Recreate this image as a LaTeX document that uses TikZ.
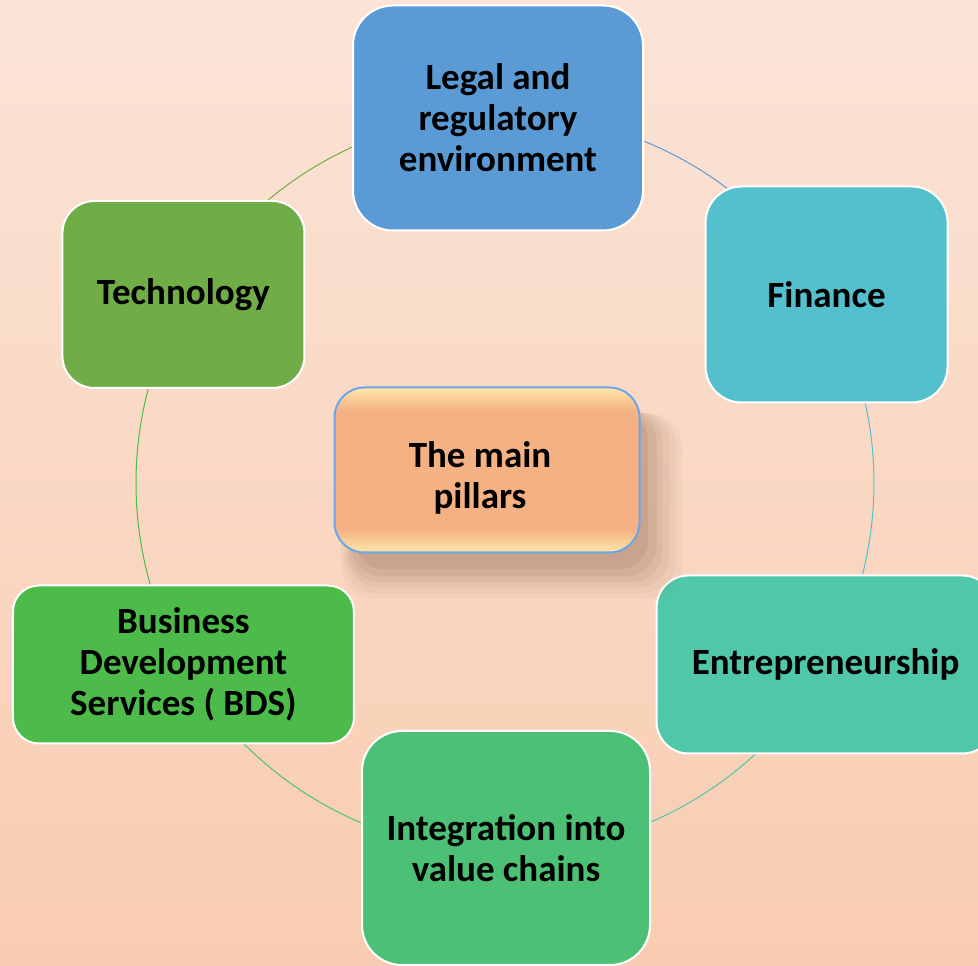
\documentclass[tikz,border=0pt]{standalone}
\usepackage{fontspec}
\setmainfont{Carlito}
\usepackage{tikz}
\usetikzlibrary{positioning, calc, shadows}

\definecolor{bgtop}{RGB}{251,228,215}
\definecolor{bgmid}{RGB}{247,199,168}
\definecolor{bgbottom}{RGB}{248,204,176}
\definecolor{legalblue}{RGB}{91,155,213}
\definecolor{financecyan}{RGB}{85,192,205}
\definecolor{entreteal}{RGB}{80,199,168}
\definecolor{valuegreen}{RGB}{76,193,118}
\definecolor{bdsgreen}{RGB}{76,187,74}
\definecolor{techgreen}{RGB}{112,173,71}
\definecolor{pillarfill}{RGB}{244,177,131}
\definecolor{pillarlight}{RGB}{255,232,170}
\definecolor{pillarline}{RGB}{108,165,235}
\definecolor{shadowbrown}{RGB}{140,100,75}

\pgfdeclareverticalshading{bevel}{100bp}{color(0bp)=(pillarlight); color(25bp)=(pillarlight);
  color(32bp)=(pillarfill); color(68bp)=(pillarfill); color(75bp)=(pillarlight); color(100bp)=(pillarlight)}

\begin{document}
\begin{tikzpicture}
    [x=1pt, y=1pt,
      pillar/.style={draw=white, line width=2pt, align=center, inner sep=0pt,
        font=\fontsize{37}{41}\selectfont\bfseries},
      ring/.style={line width=1pt}]

    \useasboundingbox (0,0) rectangle (978,966);
    \clip (0,0) rectangle (978,966);
    \shade[top color=bgtop, middle color=bgmid, bottom color=bgbottom] (0,0) rectangle (978,966);

    \coordinate (hub) at (505,483);

    % ring between the pillars
    \draw[ring, legalblue] ($(hub)+(30:369)$) arc[start angle=30, end angle=90, radius=369];
    \draw[ring, techgreen] ($(hub)+(90:369)$) arc[start angle=90, end angle=150, radius=369];
    \draw[ring, bdsgreen] ($(hub)+(150:369)$) arc[start angle=150, end angle=210, radius=369];
    \draw[ring, valuegreen] ($(hub)+(210:369)$) arc[start angle=210, end angle=270, radius=369];
    \draw[ring, entreteal] ($(hub)+(270:369)$) arc[start angle=270, end angle=330, radius=369];
    \draw[ring, financecyan] ($(hub)+(330:369)$) arc[start angle=330, end angle=390, radius=369];

    \node[pillar, fill=legalblue, rounded corners=40pt, minimum width=290pt, minimum height=225pt]
    (legal) at ($(hub)+(90:369)+(-7,-4)$) {Legal and \\ regulatory \\ environment};
    \node[pillar, fill=financecyan, rounded corners=36pt, minimum width=242pt, minimum height=216pt]
    (finance) at ($(hub)+(30:369)+(2,4)$) {Finance};
    \node[pillar, fill=entreteal, rounded corners=32pt, minimum width=338pt, minimum height=178pt]
    (entre) at ($(hub)+(-30:369)+(1,3)$) {Entrepreneurship};
    \node[pillar, fill=valuegreen, rounded corners=40pt, minimum width=288pt, minimum height=234pt]
    (value) at ($(hub)+(-90:369)+(1,4)$) {Integration into \\ value chains};
    \node[pillar, fill=bdsgreen, rounded corners=26pt, minimum width=341pt, minimum height=158pt]
    (bds) at ($(hub)+(210:369)+(-2,3)$) {Business \\ Development \\ Services ( BDS)};
    \node[pillar, fill=techgreen, rounded corners=32pt, minimum width=242pt, minimum height=187pt]
    (tech) at ($(hub)+(150:369)+(-2,4)$) {Technology};

    \node[pillar, draw=pillarline, shading=bevel, rounded corners=30pt,
      minimum width=305pt, minimum height=165pt,
      general shadow={shadow xshift=22pt, shadow yshift=-32pt, shadow scale=1.12, fill=shadowbrown, opacity=0.05},
      general shadow={shadow xshift=21pt, shadow yshift=-30pt, shadow scale=1.09, fill=shadowbrown, opacity=0.06},
      general shadow={shadow xshift=20pt, shadow yshift=-28pt, shadow scale=1.06, fill=shadowbrown, opacity=0.07},
      general shadow={shadow xshift=18pt, shadow yshift=-26pt, shadow scale=1.03, fill=shadowbrown, opacity=0.09},
      general shadow={shadow xshift=17pt, shadow yshift=-24pt, shadow scale=1.0, fill=shadowbrown, opacity=0.11},
      general shadow={shadow xshift=15pt, shadow yshift=-21pt, shadow scale=0.96, fill=shadowbrown, opacity=0.14}]
    (pillars) at ($(hub)+(-18,13)$) {\rule{0pt}{42pt}\hspace*{-14pt}The main \\ \hspace*{-14pt}pillars};
  \end{tikzpicture}
\end{document}
